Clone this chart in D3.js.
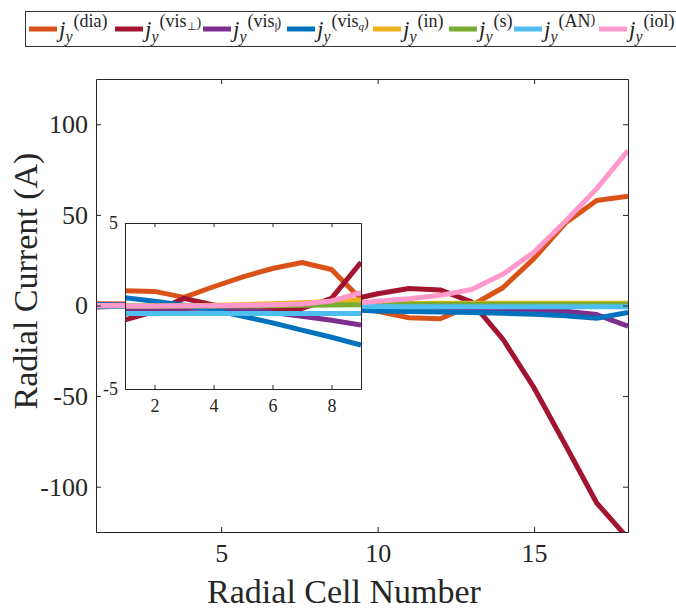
<!DOCTYPE html>
<html>
<head>
<meta charset="utf-8">
<script src="https://cdn.jsdelivr.net/npm/d3@7"></script>
<style>
  body { margin: 0; background: #fff; }
  svg { display: block; }
  text { font-family: "Liberation Serif", "Times New Roman", serif; fill: #262626; }
</style>
</head>
<body>
<svg id="chart" width="676" height="610"></svg>
<script>
// Radial cell index
const cells = [1, 2, 3, 4, 5, 6, 7, 8, 9, 10, 11, 12, 13, 14, 15, 16, 17, 18];

// Radial current components per cell (A)
const jDia    = [0.92, 0.88, 0.52, 1.16, 1.76, 2.26, 2.62, 2.2, 0.4, -3.2, -6.8, -7.3, 0.0, 9.8, 26.0, 45.5, 58.0, 60.3];
const jVisPerp= [-0.84, -0.34, 0.46, 0.06, -0.18, -0.18, -0.15, 0.46, 2.63, 6.5, 9.4, 8.6, 2.0, -18.5, -45.5, -77.0, -109.0, -128.5];
const jVisPar = [-0.24, -0.2, -0.15, -0.12, -0.2, -0.4, -0.62, -0.86, -1.14, -1.5, -1.8, -2.0, -2.2, -2.4, -2.6, -3.2, -5.0, -11.4];
const jVisQ   = [0.5, 0.28, 0.04, -0.24, -0.62, -1.02, -1.45, -1.88, -2.35, -3.0, -3.3, -3.6, -3.9, -4.3, -4.8, -5.6, -7.0, -3.8];
const jIn     = [0.0, 0.0, 0.01, 0.04, 0.08, 0.13, 0.19, 0.27, 0.36, 0.9, 1.1, 1.2, 1.2, 1.2, 1.2, 1.2, 1.2, 1.2];
const jS      = [0.0, 0.0, 0.0, 0.0, 0.0, 0.02, 0.04, 0.06, 0.08, 0.6, 0.7, 0.7, 0.7, 0.7, 0.7, 0.7, 0.7, 0.7];
const jAN     = [-0.45, -0.45, -0.45, -0.45, -0.45, -0.45, -0.45, -0.45, -0.45, -0.6, -0.65, -0.65, -0.65, -0.65, -0.65, -0.65, -0.65, -0.65];
const jIol    = [0.0, 0.0, 0.01, 0.02, 0.04, 0.07, 0.12, 0.3, 0.8, 2.3, 3.7, 5.6, 8.8, 17.2, 29.5, 46.5, 64.5, 85.5];

// Tick values
const mainXTicks = [5, 10, 15];
const mainYTicks = [-100, -50, 0, 50, 100];
const insetXTicks = [2, 4, 6, 8];
const insetYTicks = [-5, 5];

// Series: values, colour and legend superscript pieces
const series = [
  { values: jDia,     color: "#D95319", sup: [["(dia)", "n"]] },
  { values: jVisPerp, color: "#A2142F", sup: [["(vis", "n"], ["⊥", "sub"], [")", "s"]] },
  { values: jVisPar,  color: "#7E2F8E", sup: [["(vis", "n"], ["||", "subp"], [")", "s"]] },
  { values: jVisQ,    color: "#0072BD", sup: [["(vis", "n"], ["q", "subi"], [")", "s"]] },
  { values: jIn,      color: "#EDB120", sup: [["(in)", "n"]] },
  { values: jS,       color: "#77AC30", sup: [["(s)", "n"]] },
  { values: jAN,      color: "#4DBEEE", sup: [["(AN", "n"], [")", "s"]] },
  { values: jIol,     color: "#FF99CC", sup: [["(iol)", "n"]] }
];

// Left edge of each legend entry's line sample
const legendSlots = [29, 115, 203, 287, 373, 449, 514, 599];

const svg = d3.select("#chart");
const axisColor = "#262626";
const lineW = 5;

// ---------- main axes ----------
const M = { left: 96, right: 628, top: 79, bottom: 532 };
const x = d3.scaleLinear().domain([1, 18]).range([M.left, M.right]);
const y = d3.scaleLinear().domain([-125, 125]).range([M.bottom, M.top]);

svg.append("clipPath").attr("id", "mainClip")
  .append("rect").attr("x", M.left).attr("y", M.top)
  .attr("width", M.right - M.left).attr("height", M.bottom - M.top);

const line = d3.line().x((d, i) => x(cells[i])).y(d => y(d));
const mainLines = svg.append("g").attr("clip-path", "url(#mainClip)");
series.forEach(s => {
  mainLines.append("path").attr("d", line(s.values))
    .attr("fill", "none").attr("stroke", s.color)
    .attr("stroke-width", lineW).attr("stroke-linejoin", "round");
});

function styleAxis(g, fs) {
  g.select(".domain").attr("stroke", axisColor);
  g.selectAll(".tick line").attr("stroke", axisColor);
  g.selectAll(".tick text").attr("fill", axisColor)
    .style("font-family", "'Liberation Serif', serif").style("font-size", fs + "px");
}

const tickFmt = d => (d < 0 ? "-" + Math.abs(d) : String(d));

svg.append("g").attr("transform", `translate(0,${M.bottom})`)
  .call(d3.axisBottom(x).tickValues(mainXTicks).tickSizeInner(-5).tickSizeOuter(0).tickPadding(12).tickFormat(tickFmt))
  .call(g => styleAxis(g, 26));
svg.append("g").attr("transform", `translate(0,${M.top})`)
  .call(d3.axisTop(x).tickValues(mainXTicks).tickSizeInner(-5).tickSizeOuter(0).tickFormat(""))
  .call(g => styleAxis(g, 26));
svg.append("g").attr("transform", `translate(${M.left},0)`)
  .call(d3.axisLeft(y).tickValues(mainYTicks).tickSizeInner(-5).tickSizeOuter(0).tickPadding(8).tickFormat(tickFmt))
  .call(g => styleAxis(g, 26));
svg.append("g").attr("transform", `translate(${M.right},0)`)
  .call(d3.axisRight(y).tickValues(mainYTicks).tickSizeInner(-5).tickSizeOuter(0).tickFormat(""))
  .call(g => styleAxis(g, 26));

// axis titles
svg.append("text").attr("x", 344).attr("y", 603).attr("text-anchor", "middle")
  .style("font-size", "34px").text("Radial Cell Number");
svg.append("text").attr("transform", "translate(37,281) rotate(-90)").attr("text-anchor", "middle")
  .style("font-size", "34px").text("Radial Current (A)");

// ---------- inset axes (cells 1–9, zoomed) ----------
const I = { left: 125, right: 361, top: 223, bottom: 389 };
const xi = d3.scaleLinear().domain([1, 9]).range([I.left, I.right]);
const yi = d3.scaleLinear().domain([-5, 5]).range([I.bottom, I.top]);

svg.append("rect").attr("x", I.left).attr("y", I.top)
  .attr("width", I.right - I.left).attr("height", I.bottom - I.top).attr("fill", "#fff");

svg.append("clipPath").attr("id", "insetClip")
  .append("rect").attr("x", I.left).attr("y", I.top)
  .attr("width", I.right - I.left).attr("height", I.bottom - I.top);

const nInset = 9;
const lineI = d3.line().x((d, i) => xi(cells[i])).y(d => yi(d));
const insetLines = svg.append("g").attr("clip-path", "url(#insetClip)");
series.forEach(s => {
  insetLines.append("path").attr("d", lineI(s.values.slice(0, nInset)))
    .attr("fill", "none").attr("stroke", s.color)
    .attr("stroke-width", lineW).attr("stroke-linejoin", "round");
});

svg.append("g").attr("transform", `translate(0,${I.bottom})`)
  .call(d3.axisBottom(xi).tickValues(insetXTicks).tickSizeInner(-4).tickSizeOuter(0).tickPadding(10).tickFormat(tickFmt))
  .call(g => styleAxis(g, 18));
svg.append("g").attr("transform", `translate(0,${I.top})`)
  .call(d3.axisTop(xi).tickValues(insetXTicks).tickSizeInner(-4).tickSizeOuter(0).tickFormat(""))
  .call(g => styleAxis(g, 18));
svg.append("g").attr("transform", `translate(${I.left},0)`)
  .call(d3.axisLeft(yi).tickValues(insetYTicks).tickSizeInner(-4).tickSizeOuter(0).tickPadding(7).tickFormat(tickFmt))
  .call(g => styleAxis(g, 18));
svg.append("g").attr("transform", `translate(${I.right},0)`)
  .call(d3.axisRight(yi).tickValues(insetYTicks).tickSizeInner(-4).tickSizeOuter(0).tickFormat(""))
  .call(g => styleAxis(g, 18));

// ---------- legend ----------
const legend = svg.append("g");
legend.append("rect").attr("x", 25.5).attr("y", 11.5).attr("width", 700).attr("height", 35)
  .attr("fill", "#fff").attr("stroke", "#333").attr("stroke-width", 1);

const ly = 29;
series.forEach((s, k) => {
  const lx = legendSlots[k];
  legend.append("line").attr("x1", lx).attr("x2", lx + 28).attr("y1", ly).attr("y2", ly)
    .attr("stroke", s.color).attr("stroke-width", lineW);
  const tx = lx + 30;
  const jT = legend.append("text").attr("x", tx).attr("y", 37)
    .style("font-size", "23px").style("font-style", "italic").text("j");
  const jw = jT.node().getComputedTextLength();
  const yx = tx + jw;
  const yT = legend.append("text").attr("x", yx).attr("y", 42)
    .style("font-size", "16px").style("font-style", "italic").text("y");
  const yw = yT.node().getComputedTextLength();
  const supT = legend.append("text").attr("x", yx + yw + 1).attr("y", 27).style("font-size", "18px");
  s.sup.forEach(([txt, kind]) => {
    const t = supT.append("tspan").text(txt);
    if (kind === "sub") t.style("font-size", "11px").attr("dy", 3);
    if (kind === "subp") t.style("font-size", "10px").style("letter-spacing", "-1px").attr("dy", 3);
    if (kind === "subi") t.style("font-size", "11px").style("font-style", "italic").attr("dy", 3);
    if (kind === "s") t.style("font-size", "14px").attr("dy", -3);
  });
});
</script>
</body>
</html>
